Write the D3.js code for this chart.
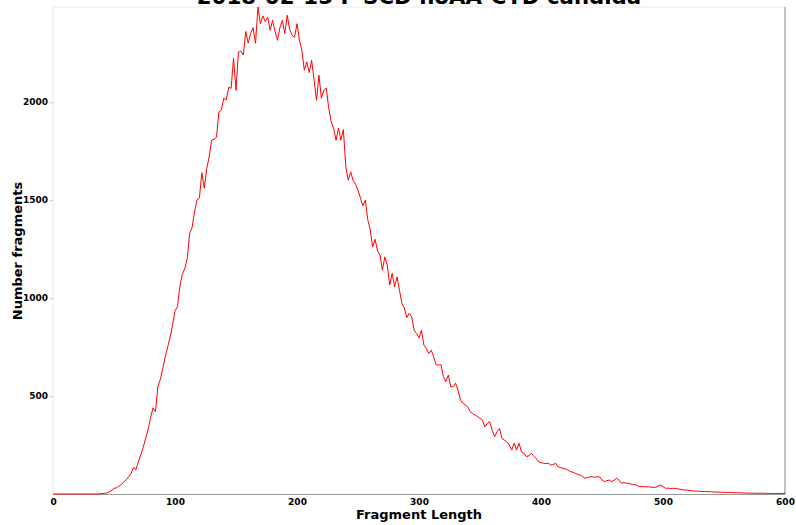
<!DOCTYPE html>
<meta charset="utf-8">
<style>
body { margin: 0; background: #fff; }
text { font-family: "DejaVu Sans", sans-serif; font-weight: bold; }
</style>
<body>
<script src="https://cdn.jsdelivr.net/npm/d3@7"></script>
<script>

var title = "2018-02-15 F-SCD noAA-CYD candida",
    xLabel = "Fragment Length",
    yLabel = "Number fragments";

var xTicks = [0, 100, 200, 300, 400, 500, 600],
    yTicks = [500, 1000, 1500, 2000];

// fragment lengths, every 2 bp
var lengths = d3.range(0, 601, 2);

// counts, one per length above
var counts = [
  0,0,0,0,0,0,0,0,0,0, 0,0,0,0,0,0,0,0,0,1,
  2,3,5,10,18,28,32,40,48,62, 72,88,105,135,125,165,200,240,285,330,
  390,440,420,550,585,640,700,750,800,860, 935,955,1060,1120,1150,1200,1330,1360,1440,1500,
  1510,1640,1560,1660,1720,1805,1810,1820,1950,1960, 2020,2010,2075,2070,2225,2060,2255,2260,2240,2360,
  2300,2350,2380,2300,2485,2400,2440,2410,2434,2366, 2417,2360,2315,2380,2417,2350,2443,2370,2340,2330,
  2400,2315,2264,2162,2205,2150,2213,2111,2009,2137, 2020,2060,2071,1969,1900,1867,1805,1867,1805,1860,
  1670,1601,1644,1600,1580,1550,1510,1470,1500,1400, 1350,1260,1300,1240,1219,1142,1210,1168,1066,1126,
  1057,1108,1040,973,949,900,922,904,836,819, 795,836,760,743,717,734,700,660,658,660,
  600,573,607,547,547,565,530,479,463,455, 445,420,410,403,395,386,377,343,360,369,
  326,292,318,335,284,275,267,250,224,259, 224,259,215,208,190,195,208,195,182,165,
  160,157,155,157,148,150,157,139,135,131, 128,122,114,112,106,100,97,90,80,84,
  88,88,85,88,88,71,63,68,71,63, 71,80,70,55,58,55,55,50,48,46,
  40,37,38,36,37,35,34,34,40,46, 38,29,30,28,29,29,27,24,22,20,
  20,18,16,15,15,14,13,13,12,12, 11,10,10,9,9,9,8,8,7,7,
  7,6,6,5,5,4,4,4,4,3, 4,4,3,3,3,2,2,3,2,3,
  4
];

var width = 796, height = 525,
    margin = {top: 7, right: 11, bottom: 31, left: 53};

var svg = d3.select("body").append("svg")
    .attr("width", width)
    .attr("height", height);

var x = d3.scaleLinear().domain([0, 600])
    .range([margin.left, width - margin.right]);
var y = d3.scaleLinear().domain([0, d3.max(counts)])
    .range([height - margin.bottom, margin.top]);

// frame
svg.append("line")
    .attr("x1", x(0)).attr("x2", x(600))
    .attr("y1", y.range()[1]).attr("y2", y.range()[1])
    .attr("stroke", "#ececec").attr("stroke-width", 1.2);
svg.append("line")
    .attr("x1", x(0)).attr("x2", x(0))
    .attr("y1", y.range()[0]).attr("y2", y.range()[1])
    .attr("stroke", "#ececec").attr("stroke-width", 1.2);
svg.append("line")
    .attr("x1", x(600)).attr("x2", x(600))
    .attr("y1", y.range()[0]).attr("y2", y.range()[1])
    .attr("stroke", "#999").attr("stroke-width", 1.2);

var xAxis = svg.append("g")
    .attr("transform", "translate(0," + y(0) + ")")
    .call(d3.axisBottom(x).tickValues(xTicks).tickSize(0).tickPadding(5));
xAxis.select(".domain").attr("stroke", "#999").attr("stroke-width", 1.2);
xAxis.selectAll("text").attr("font-size", 9).attr("fill", "#000")
    .style("font-family", "DejaVu Sans").style("font-weight", "bold");

var yAxis = svg.append("g")
    .attr("transform", "translate(" + x(0) + ",0)")
    .call(d3.axisLeft(y).tickValues(yTicks).tickFormat(d3.format("d"))
      .tickSize(3).tickPadding(2));
yAxis.select(".domain").remove();
yAxis.selectAll("line").attr("stroke", "#ccc");
yAxis.selectAll("text").attr("font-size", 9).attr("fill", "#000")
    .style("font-family", "DejaVu Sans").style("font-weight", "bold");

var line = d3.line()
    .x(function(d, i) { return x(lengths[i]); })
    .y(function(d) { return y(d); });

svg.append("path")
    .datum(counts)
    .attr("fill", "none")
    .attr("stroke", "#ff0000")
    .attr("stroke-width", 1)
    .attr("d", line);

svg.append("text")
    .attr("x", (x(0) + x(600)) / 2)
    .attr("y", 4)
    .attr("text-anchor", "middle")
    .attr("font-size", 21.3)
    .text(title);

svg.append("text")
    .attr("x", (x(0) + x(600)) / 2)
    .attr("y", 519)
    .attr("text-anchor", "middle")
    .attr("font-size", 13)
    .text(xLabel);

svg.append("text")
    .attr("transform", "translate(22,251) rotate(-90)")
    .attr("text-anchor", "middle")
    .attr("font-size", 13)
    .text(yLabel);

</script>
